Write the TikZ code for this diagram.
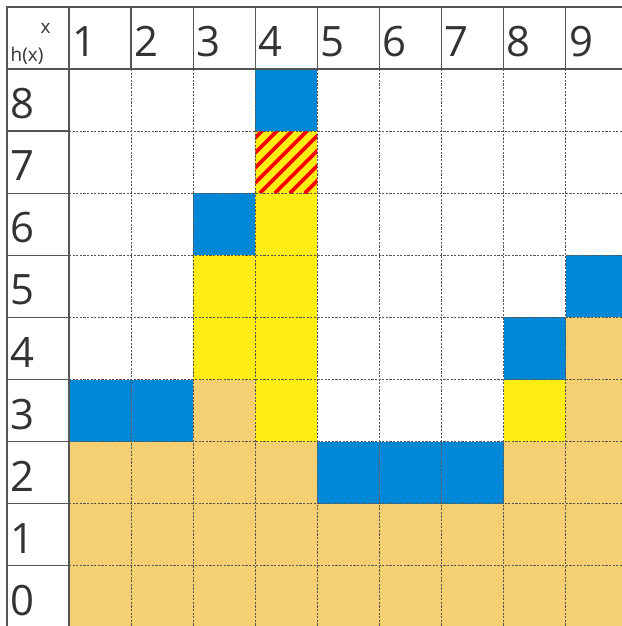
\documentclass[tikz,border=0pt]{standalone}
\usepackage{fontspec}
\setmainfont{Open Sans}
\definecolor{cblue}{RGB}{0,136,214}
\definecolor{cyellow}{RGB}{255,237,20}
\definecolor{ctan}{RGB}{244,208,115}
\definecolor{cred}{RGB}{255,0,0}
\definecolor{cgrid}{RGB}{85,85,85}
\definecolor{ctext}{RGB}{51,51,51}
\newcommand{\cs}{62.1}
\newcommand{\cellfill}[3]{\fill[#1] ({69+(#2-1)*\cs},{69+(8-#3)*\cs}) rectangle ++(\cs,\cs);}
\begin{document}
\begin{tikzpicture}[x=1bp,y=-1bp,
  num/.style={anchor=base west,inner sep=0pt,text=ctext,font=\fontsize{42}{42}\selectfont},
  small/.style={anchor=base west,inner sep=0pt,text=ctext,font=\fontsize{19}{19}\selectfont},
  solidline/.style={draw=cgrid,line width=1.3bp},
  dashline/.style={draw=cgrid,line width=0.9bp,dash pattern=on 2.2bp off 1.4bp}]
\useasboundingbox (0,0) rectangle (622,626);
\fill[white] (0,0) rectangle (622,626);
\begin{scope}
\clip (0,0) rectangle (622,626);
% tan ground
\foreach \c in {1,...,9}{\foreach \h in {0,1}{\cellfill{ctan}{\c}{\h}}}
\foreach \c/\h in {1/2,2/2,3/2,4/2,8/2,9/2,3/3,9/3,9/4}{\cellfill{ctan}{\c}{\h}}
% yellow
\foreach \c/\h in {3/4,3/5,4/3,4/4,4/5,4/6,8/3,4/7}{\cellfill{cyellow}{\c}{\h}}
% blue
\foreach \c/\h in {1/3,2/3,3/6,4/8,5/2,6/2,7/2,8/4,9/5}{\cellfill{cblue}{\c}{\h}}
% stripes on (4,7)
\begin{scope}
\clip ({69+3*\cs},{69+\cs}) rectangle ++(\cs,\cs);
\foreach \k in {-1,...,9}{
  \draw[cred,line width=3.6bp] ({199.8+\k*15},{69+2*\cs}) -- ++(\cs+10,-\cs-10);
}
\end{scope}
% dashed grid
\foreach \k in {1,...,8}{
  \draw[dashline] ({69+\k*\cs},69) -- ({69+\k*\cs},630);
  \draw[dashline] (69,{69+\k*\cs}) -- (630,{69+\k*\cs});
}
% solid header lines
\draw[solidline] (7,630) -- (7,7) -- (630,7);
\draw[solidline] (69,7) -- (69,630);
\draw[solidline] (7,69) -- (630,69);
\foreach \k in {1,...,8}{
  \draw[solidline] ({69+\k*\cs},7) -- ({69+\k*\cs},69);
  \draw[solidline] (7,{69+\k*\cs}) -- (69,{69+\k*\cs});
}
\end{scope}
% labels
\node[small] (xlab) at (40.5,34) {x};
\node[small] (hlab) at (10.5,62) {h(x)};
\foreach \c in {1,...,9}{
  \node[num] (col\c) at ({69+(\c-1)*\cs+3},56.5) {\c};
}
\foreach \h in {0,...,8}{
  \node[num] (row\h) at (10,{69+(9-\h)*\cs-12.5}) {\h};
}
\end{tikzpicture}
\end{document}
